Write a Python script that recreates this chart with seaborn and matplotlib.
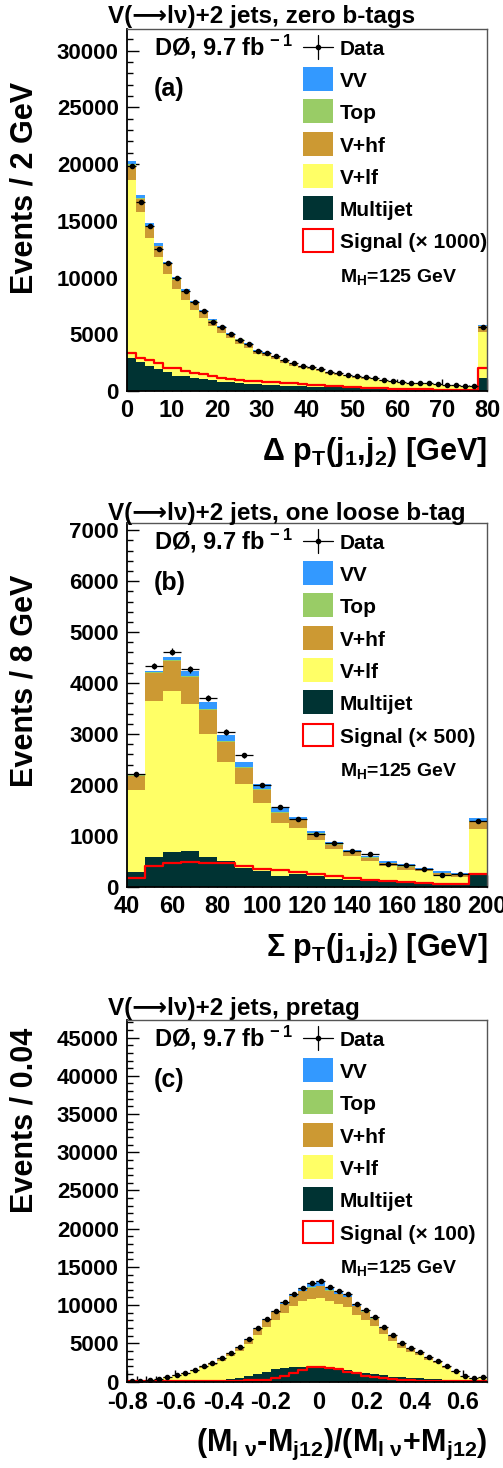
import numpy as np
import pandas as pd
import matplotlib
matplotlib.use("Agg")
import matplotlib.pyplot as plt
from matplotlib.patches import Rectangle
from matplotlib.lines import Line2D
from matplotlib.ticker import MultipleLocator, FuncFormatter
import seaborn as sns

W, H = 503, 1468

PROCESSES = ['VV', 'Top', 'V+hf', 'V+lf', 'Multijet']
COLORS = {'VV': '#3399ff', 'Top': '#99cc66', 'V+hf': '#cc9933',
          'V+lf': '#ffff66', 'Multijet': '#003333'}

# ---- panel (a): delta pT(j1,j2), zero b-tags, 2 GeV bins ----
a_data = [19840, 16670, 14580, 12550, 11320, 9990, 8820, 7850, 7050, 6110,
          5670, 5050, 4470, 4115, 3560, 3380, 3090, 2730, 2440, 2200,
          2090, 1910, 1675, 1560, 1410, 1290, 1200, 1120, 1000, 910,
          795, 735, 675, 675, 590, 560, 500, 470, 470, 5610]
a_multijet = [2880, 2590, 2200, 1940, 1700, 1320, 1280, 1175, 1030, 970,
              765, 765, 680, 620, 580, 540, 500, 470, 440, 400,
              370, 350, 330, 310, 290, 270, 260, 240, 220, 210,
              200, 190, 180, 170, 160, 150, 140, 135, 130, 1120]
a_vlf = [15730, 13140, 11260, 9900, 8610, 7640, 6740, 5970, 5380, 4760,
         4380, 3880, 3470, 3150, 2650, 2530, 2300, 2010, 1780, 1600,
         1530, 1390, 1190, 1110, 990, 900, 830, 780, 690, 620,
         520, 480, 435, 445, 380, 360, 315, 295, 300, 4110]
a_vhf = [1250, 1150, 1000, 900, 850, 860, 740, 650, 580, 460,
         490, 390, 370, 345, 280, 265, 245, 215, 190, 175,
         165, 150, 130, 120, 110, 100, 95, 88, 78, 70,
         62, 57, 53, 53, 46, 44, 39, 37, 37, 460]
a_top = [100, 90, 80, 70, 60, 60, 50, 45, 40, 35,
         35, 30, 30, 28, 20, 18, 17, 15, 14, 12,
         12, 11, 10, 9, 8, 7, 7, 6, 6, 5,
         5, 4, 4, 4, 3, 3, 3, 3, 3, 40]
a_vv = [350, 320, 240, 210, 180, 200, 150, 125, 115, 95,
        95, 80, 70, 67, 60, 55, 50, 45, 40, 36,
        34, 31, 28, 26, 23, 21, 20, 18, 16, 15,
        13, 12, 11, 11, 10, 9, 8, 8, 8, 90]
a_signal = [3320, 2880, 2730, 2440, 2000, 2000, 1760, 1560, 1470, 1320,
            1175, 1030, 930, 880, 850, 800, 760, 720, 680, 620,
            560, 500, 440, 400, 360, 330, 300, 270, 240, 200,
            180, 160, 150, 140, 130, 120, 110, 100, 100, 2000]

# ---- panel (b): sum pT(j1,j2), one loose b-tag, 8 GeV bins ----
b_data = [2208, 4337, 4618, 4272, 3714, 3040, 2582, 1998, 1572, 1330,
          1049, 865, 701, 642, 459, 432, 348, 243, 250, 1285]
b_multijet = [290, 580, 680, 705, 580, 510, 380, 314, 210, 263,
              210, 165, 145, 120, 100, 80, 65, 55, 50, 230]
b_vlf = [1610, 3070, 3160, 2880, 2420, 1945, 1650, 1340, 1055, 885,
         710, 575, 460, 385, 306, 248, 243, 175, 146, 898]
b_vhf = [270, 540, 590, 530, 465, 385, 305, 250, 190, 160,
         115, 85, 72, 66, 56, 68, 38, 41, 46, 150]
b_top = [20, 25, 25, 25, 25, 25, 25, 20, 20, 20,
         15, 15, 13, 12, 10, 10, 8, 8, 8, 18]
b_vv = [15, 25, 65, 100, 130, 118, 100, 90, 76, 44,
        46, 44, 32, 20, 33, 40, 27, 26, 25, 48]
b_signal = [184, 406, 479, 491, 479, 479, 413, 361, 328, 295,
            263, 216, 177, 145, 118, 92, 85, 65, 52, 263]

# ---- panel (c): (Mlv - Mj12)/(Mlv + Mj12), pretag ----
c_data = [60, 80, 200, 330, 545, 810, 1070, 1500, 1990, 2470,
          3030, 3780, 4470, 5560, 7000, 8180, 9270, 10360, 11500, 12280,
          12850, 13150, 12410, 11890, 11450, 10150, 9360, 8400, 7170, 6090,
          5080, 4420, 3900, 3250, 2720, 2070, 1410, 760, 420, 630]
c_multijet = [20, 25, 30, 40, 55, 70, 90, 120, 160, 200,
              260, 380, 520, 700, 1000, 1280, 1600, 1730, 1900, 1950,
              1950, 1900, 1850, 1700, 1500, 1300, 1100, 950, 800, 650,
              550, 470, 400, 330, 270, 210, 150, 90, 60, 50]
c_vlf = [33, 46, 149, 254, 431, 652, 863, 1216, 1608, 1990,
         2420, 2957, 3413, 4178, 5125, 5850, 6455, 7230, 7985, 8520,
         8815, 9035, 8650, 8410, 8295, 7420, 6985, 6330, 5425, 4650,
         3875, 3388, 3010, 2511, 2109, 1600, 1084, 573, 309, 501]
c_vhf = [5, 7, 18, 30, 50, 75, 100, 140, 190, 240,
         300, 380, 460, 580, 740, 880, 1000, 1130, 1260, 1350,
         1500, 1550, 1350, 1300, 1250, 1120, 1030, 930, 800, 680,
         570, 490, 430, 360, 300, 230, 155, 85, 45, 70]
c_top = [1, 1, 1, 2, 3, 4, 5, 7, 10, 12,
         15, 18, 22, 27, 35, 40, 45, 50, 55, 60,
         65, 65, 60, 60, 55, 50, 45, 40, 35, 30,
         25, 22, 20, 16, 14, 10, 7, 4, 2, 3]
c_vv = [1, 1, 2, 4, 6, 9, 12, 17, 22, 28,
        35, 45, 55, 75, 100, 130, 170, 220, 300, 400,
        520, 600, 500, 420, 350, 260, 200, 150, 110, 80,
        60, 50, 40, 33, 27, 20, 14, 8, 4, 6]
c_signal = [5, 8, 10, 15, 20, 25, 30, 40, 50, 60,
            70, 90, 120, 160, 200, 260, 420, 720, 1070, 1450,
            1900, 1950, 1800, 1640, 1250, 1070, 720, 550, 420, 330,
            230, 180, 130, 100, 70, 50, 35, 25, 15, 10]

sns.set_style("white")
plt.rcParams['font.family'] = ['Liberation Sans', 'DejaVu Sans']
plt.rcParams['font.weight'] = 'bold'
plt.rcParams['text.color'] = 'black'
plt.rcParams['xtick.color'] = 'black'
plt.rcParams['ytick.color'] = 'black'
plt.rcParams['mathtext.fontset'] = 'custom'
plt.rcParams['mathtext.rm'] = 'Liberation Sans:bold'
plt.rcParams['mathtext.it'] = 'Liberation Sans:bold'
plt.rcParams['mathtext.bf'] = 'Liberation Sans:bold'
plt.rcParams['mathtext.sf'] = 'Liberation Sans:bold'
plt.rcParams['mathtext.default'] = 'regular'
plt.rcParams['axes.unicode_minus'] = False


def fx(x):
    return x / W


def fy(y):
    return 1 - y / H


def draw_panel(fig, top, bottom, edges, data, comps, signal, ymax,
               ymaj, ymin, xmaj, xmin, xpad=5.5):
    ax = fig.add_axes([fx(127), fy(bottom), 360 / W, (bottom - top) / H])
    edges = np.asarray(edges)
    centers = 0.5 * (edges[:-1] + edges[1:])
    n = len(centers)
    bin_list = [float(e) for e in edges]

    stack = pd.DataFrame({
        'x': np.tile(centers, len(PROCESSES)),
        'w': np.concatenate([np.asarray(comps[p], dtype=float) for p in PROCESSES]),
        'proc': np.repeat(PROCESSES, n),
    })
    sns.histplot(data=stack, x='x', weights='w', hue='proc',
                 hue_order=PROCESSES, bins=bin_list, multiple='stack',
                 element='step', fill=True, alpha=1, linewidth=0,
                 palette=COLORS, legend=False, ax=ax)
    # signal (scaled) as an open red histogram
    sig = pd.DataFrame({'x': centers, 'w': np.asarray(signal, dtype=float)})
    sns.histplot(data=sig, x='x', weights='w', bins=bin_list, element='step',
                 fill=False, color='red', linewidth=1.6, ax=ax)

    data = np.asarray(data, dtype=float)
    half = 0.5 * (edges[1:] - edges[:-1])
    ax.errorbar(centers, data, xerr=half, yerr=np.sqrt(data), fmt='o',
                ms=3, color='black', elinewidth=0.9, capsize=0, zorder=5)

    ax.set_xlim(edges[0], edges[-1])
    ax.set_ylim(0, ymax)
    ax.set_xlabel('')
    ax.set_ylabel('')
    ax.yaxis.set_major_locator(MultipleLocator(ymaj))
    ax.yaxis.set_minor_locator(MultipleLocator(ymin))
    ax.xaxis.set_major_locator(MultipleLocator(xmaj))
    ax.xaxis.set_minor_locator(MultipleLocator(xmin))
    fmt = FuncFormatter(lambda v, pos: '%g' % round(v, 6))
    ax.xaxis.set_major_formatter(fmt)
    ax.yaxis.set_major_formatter(fmt)
    ax.tick_params(which='both', direction='in', left=True, bottom=True,
                   top=False, right=False, width=1, color='black',
                   labelcolor='black')
    ax.tick_params(which='major', length=8.5)
    ax.tick_params(which='minor', length=4.3)
    ax.tick_params(axis='y', labelsize=16, pad=6)
    ax.tick_params(axis='x', labelsize=17, pad=xpad)
    for lab in ax.get_xticklabels() + ax.get_yticklabels():
        lab.set_fontweight('bold')
    for side in ['left', 'bottom']:
        ax.spines[side].set_linewidth(1.3)
        ax.spines[side].set_color('black')
    for side in ['top', 'right']:
        ax.spines[side].set_linewidth(1.0)
        ax.spines[side].set_color('#555555')
    return ax


def draw_labels(fig, top, bottom, title, title_base, ylabel, ylabel_top,
                xlabel, tag, scale):
    fig.text(fx(108), fy(title_base), title, fontsize=17.5, ha='left',
             va='baseline')
    fig.text(fx(33), fy(ylabel_top), ylabel, fontsize=22, rotation=90,
             rotation_mode='anchor', ha='right', va='baseline')
    fig.text(fx(487), fy(bottom + 69), xlabel, fontsize=22, ha='right',
             va='baseline')
    fig.text(fx(154), fy(top + 26), r'DØ, 9.7 fb$^{\,-1}$', fontsize=17,
             ha='left', va='baseline')
    fig.text(fx(154), fy(top + 67), tag, fontsize=18, ha='left',
             va='baseline')

    # legend, drawn ROOT-style
    entries = [('Data', None), ('VV', 'VV'), ('Top', 'Top'),
               ('V+hf', 'V+hf'), ('V+lf', 'V+lf'),
               ('Multijet', 'Multijet'),
               ('Signal (× %d)' % scale, 'signal')]
    for i, (label, key) in enumerate(entries):
        yc = top + 17.7 + 32.3 * i
        if key is None:
            fig.add_artist(Line2D([fx(303), fx(333)], [fy(yc), fy(yc)],
                                  color='black', lw=0.9,
                                  transform=fig.transFigure))
            fig.add_artist(Line2D([fx(318), fx(318)], [fy(yc - 12), fy(yc + 12)],
                                  color='black', lw=0.9,
                                  transform=fig.transFigure))
            fig.add_artist(Line2D([fx(318)], [fy(yc)], marker='o', ms=3,
                                  color='black', transform=fig.transFigure))
        elif key == 'signal':
            fig.add_artist(Rectangle((fx(303), fy(yc + 11)), 30 / W, 22 / H,
                                     facecolor='white', edgecolor='red',
                                     lw=1.5, transform=fig.transFigure))
        else:
            fig.add_artist(Rectangle((fx(302.5), fy(yc + 12)), 30 / W, 24 / H,
                                     facecolor=COLORS[key], edgecolor='none',
                                     transform=fig.transFigure))
        fig.text(fx(340), fy(yc + 8), label, fontsize=15, ha='left',
                 va='baseline')
    fig.text(fx(340), fy(top + 253), r'M$_{H}$=125 GeV', fontsize=14,
             ha='left', va='baseline')


fig = plt.figure(figsize=(W / 100, H / 100), dpi=100)

comps_a = {'VV': a_vv, 'Top': a_top, 'V+hf': a_vhf, 'V+lf': a_vlf,
           'Multijet': a_multijet}
comps_b = {'VV': b_vv, 'Top': b_top, 'V+hf': b_vhf, 'V+lf': b_vlf,
           'Multijet': b_multijet}
comps_c = {'VV': c_vv, 'Top': c_top, 'V+hf': c_vhf, 'V+lf': c_vlf,
           'Multijet': c_multijet}

draw_panel(fig, 29, 391, np.linspace(0, 80, 41), a_data, comps_a, a_signal,
           31900, 5000, 1000, 10, 2)
draw_labels(fig, 29, 391, 'V(⟶lν)+2 jets, zero b-tags', 23,
            'Events / 2 GeV', 82,
            r'Δ p$_{T}$(j$_{1}$,j$_{2}$) [GeV]', '(a)', 1000)

draw_panel(fig, 523, 887, np.linspace(40, 200, 21), b_data, comps_b, b_signal,
           7140, 1000, 200, 20, 4)
draw_labels(fig, 523, 887, 'V(⟶lν)+2 jets, one loose b-tag', 520,
            'Events / 8 GeV', 575,
            r'Σ p$_{T}$(j$_{1}$,j$_{2}$) [GeV]', '(b)', 500)

draw_panel(fig, 1020, 1381.5, np.linspace(-0.8, 0.7, 41), c_data, comps_c,
           c_signal, 47300, 5000, 1000, 0.2, 0.04, xpad=7)
draw_labels(fig, 1020, 1381.5, 'V(⟶lν)+2 jets, pretag', 1015,
            'Events / 0.04', 1028,
            r'(M$_{l\ ν}$-M$_{j12}$)/(M$_{l\ ν}$+M$_{j12}$)', '(c)', 100)

fig.savefig('out.png', dpi=100)
